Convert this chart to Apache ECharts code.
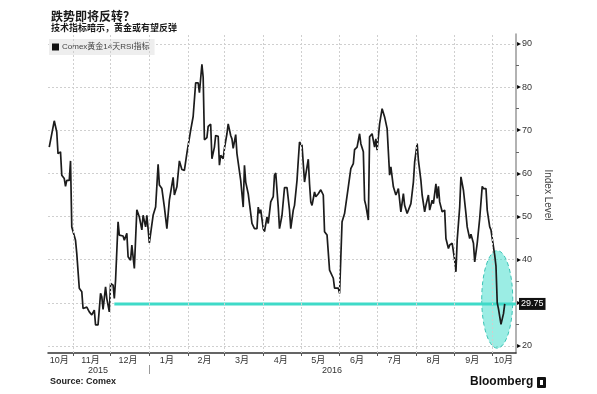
<!DOCTYPE html>
<html>
<head>
<meta charset="utf-8">
<script src="https://cdn.jsdelivr.net/npm/echarts@6/dist/echarts.min.js"></script>
<style>
html,body{margin:0;padding:0;background:#fff;}
#chart{width:597px;height:394px;}
</style>
</head>
<body>
<div id="chart"></div>
<script>
// ---------------- data ----------------
const titleText = '跌势即将反转？';
const subtitleText = '技术指标暗示，黄金或有望反弹';
const seriesName = 'Comex黄金14天RSI指标';
const sourceText = 'Source: Comex';
const brandText = 'Bloomberg';
const yAxisName = 'Index Level';

const xMin = '2015-10-12';
const xMax = '2016-10-20';

const rsiDates = [
 '2015-10-13','2015-10-17','2015-10-19','2015-10-20','2015-10-22','2015-10-23','2015-10-25','2015-10-26','2015-10-27','2015-10-29',
 '2015-10-30','2015-10-31','2015-11-03','2015-11-04','2015-11-06','2015-11-08','2015-11-09','2015-11-12','2015-11-14','2015-11-16',
 '2015-11-18','2015-11-19','2015-11-21','2015-11-23','2015-11-24','2015-11-25','2015-11-27','2015-11-28','2015-11-30','2015-12-01',
 '2015-12-03','2015-12-04','2015-12-05','2015-12-07','2015-12-08','2015-12-11','2015-12-12','2015-12-14','2015-12-15','2015-12-17',
 '2015-12-18','2015-12-20','2015-12-22','2015-12-24','2015-12-26','2015-12-27','2015-12-29','2015-12-30','2016-01-01','2016-01-02',
 '2016-01-04','2016-01-06','2016-01-08','2016-01-09','2016-01-11','2016-01-13','2016-01-14','2016-01-15','2016-01-17','2016-01-18',
 '2016-01-20','2016-01-21','2016-01-23','2016-01-25','2016-01-27','2016-01-29','2016-01-31','2016-02-01','2016-02-03','2016-02-05',
 '2016-02-06','2016-02-07','2016-02-09','2016-02-10','2016-02-12','2016-02-13','2016-02-14','2016-02-16','2016-02-17','2016-02-19',
 '2016-02-20','2016-02-22','2016-02-23','2016-02-25','2016-02-26','2016-02-27','2016-02-29','2016-03-01','2016-03-03','2016-03-04',
 '2016-03-06','2016-03-07','2016-03-08','2016-03-10','2016-03-11','2016-03-14','2016-03-16','2016-03-17','2016-03-18','2016-03-20',
 '2016-03-21','2016-03-23','2016-03-25','2016-03-27','2016-03-28','2016-03-29','2016-03-30','2016-04-01','2016-04-02','2016-04-04',
 '2016-04-05','2016-04-07','2016-04-09','2016-04-10','2016-04-11','2016-04-13','2016-04-14','2016-04-16','2016-04-17','2016-04-18',
 '2016-04-20','2016-04-22','2016-04-23','2016-04-25','2016-04-26','2016-04-28','2016-04-29','2016-04-30','2016-05-02','2016-05-04',
 '2016-05-05','2016-05-07','2016-05-08','2016-05-09','2016-05-10','2016-05-12','2016-05-13','2016-05-15','2016-05-17','2016-05-19',
 '2016-05-20','2016-05-22','2016-05-24','2016-05-27','2016-05-28','2016-05-31','2016-06-01','2016-06-03','2016-06-05','2016-06-06',
 '2016-06-08','2016-06-10','2016-06-12','2016-06-13','2016-06-15','2016-06-17','2016-06-18','2016-06-20','2016-06-21','2016-06-22',
 '2016-06-24','2016-06-25','2016-06-27','2016-06-29','2016-06-30','2016-07-01','2016-07-03','2016-07-05','2016-07-07','2016-07-09',
 '2016-07-10','2016-07-11','2016-07-12','2016-07-14','2016-07-16','2016-07-17','2016-07-18','2016-07-20','2016-07-22','2016-07-23',
 '2016-07-25','2016-07-26','2016-07-28','2016-07-30','2016-07-31','2016-08-02','2016-08-03','2016-08-05','2016-08-06','2016-08-08',
 '2016-08-09','2016-08-11','2016-08-12','2016-08-14','2016-08-15','2016-08-17','2016-08-18','2016-08-19','2016-08-20','2016-08-22',
 '2016-08-24','2016-08-25','2016-08-27','2016-08-28','2016-08-30','2016-09-01','2016-09-02','2016-09-03','2016-09-05','2016-09-06',
 '2016-09-08','2016-09-10','2016-09-11','2016-09-13','2016-09-14','2016-09-16','2016-09-17','2016-09-19','2016-09-21','2016-09-23',
 '2016-09-24','2016-09-26','2016-09-27','2016-09-29','2016-09-30','2016-10-02','2016-10-03','2016-10-04','2016-10-05','2016-10-06',
 '2016-10-07','2016-10-08','2016-10-09','2016-10-10','2016-10-11'
];
const rsiValues = [
 66.1,72.2,69.6,64.6,65.0,59.6,58.8,57.0,58.4,58.4,
 62.9,47.6,44.5,41.4,33.4,32.6,28.7,29.0,27.9,27.2,
 28.3,24.9,24.9,32.2,31.4,28.5,33.7,31.0,27.9,34.5,
 34.1,31.0,35.3,48.8,45.7,45.5,44.5,46.1,40.7,39.9,
 43.4,38.0,51.6,49.9,46.9,50.3,47.6,50.3,43.9,43.9,
 50.3,52.2,62.1,57.3,56.5,52.2,52.4,47.2,53.8,53.4,
 59.1,55.0,56.9,62.9,60.9,60.7,64.7,64.7,70.0,73.2,
 73.5,81.0,81.0,78.7,85.3,82.3,67.8,68.3,70.9,71.4,
 63.4,66.1,68.8,68.6,61.9,64.2,63.4,65.8,69.2,71.5,
 68.8,68.0,65.8,69.0,64.6,58.4,52.2,61.9,58.0,55.3,
 55.7,48.4,47.2,47.2,52.2,50.8,51.6,47.2,46.5,49.9,
 48.4,53.4,54.6,59.6,60.1,52.2,47.2,50.3,50.1,56.7,
 56.7,51.5,47.2,51.5,52.6,58.4,63.0,67.3,66.5,58.0,
 57.6,63.3,57.6,53.4,52.6,55.7,54.6,55.3,56.2,55.0,
 46.5,45.7,37.6,35.7,33.4,33.4,32.2,48.8,50.7,51.1,
 56.9,61.1,62.3,65.5,66.1,69.2,66.9,65.0,53.8,52.6,
 49.2,68.5,69.2,66.1,68.0,65.4,71.5,75.0,73.1,70.4,
 70.0,59.6,61.5,56.9,55.0,55.7,56.5,51.1,55.3,52.6,
 50.7,51.1,53.0,58.0,62.6,66.9,63.1,58.4,55.0,51.1,
 52.6,55.0,51.5,53.8,53.0,57.6,54.2,57.0,53.4,51.1,
 51.5,44.9,42.6,43.4,43.8,39.9,37.2,44.5,52.2,59.2,
 56.1,50.7,47.6,44.9,45.9,43.8,39.5,43.8,49.6,57.0,
 56.5,56.5,51.5,47.6,46.9,43.0,41.0,38.5,30.0,28.6,
 28.3,25.0,24.6,27.5,29.75
];

// annotation: horizontal reference level and highlight ellipse (data units)
const refLevel = 29.75;
const refLineStart = '2015-12-04';
const highlightCenter = ['2016-10-05', 30.8];
const highlightRadiusDays = 12.4;
const highlightRadiusValue = 11.3;

// axis ticks / labels
const yMin = 20, yMax = 90, yStep = 10;
const monthStarts = ['2015-11-01','2015-12-01','2016-01-01','2016-02-01','2016-03-01','2016-04-01',
                     '2016-05-01','2016-06-01','2016-07-01','2016-08-01','2016-09-01','2016-10-01'];
const monthLabelDates = ['2015-10-21','2015-11-15','2015-12-15','2016-01-15','2016-02-14','2016-03-15',
                         '2016-04-15','2016-05-15','2016-06-15','2016-07-15','2016-08-15','2016-09-15','2016-10-10'];
const monthLabels = ['10月','11月','12月','1月','2月','3月','4月','5月','6月','7月','8月','9月','10月'];
const yearBreaks = ['2016-01-01'];
const yearLabelDates = ['2015-11-21','2016-05-26'];
const yearLabels = ['2015','2016'];

// ---------------- chart ----------------
const ts = s => Date.UTC(+s.slice(0, 4), +s.slice(5, 7) - 1, +s.slice(8, 10));
const DAY = 86400000;
const tMin = ts(xMin), tMax = ts(xMax);
const lineData = rsiDates.map((d, i) => [ts(d), rsiValues[i]]);
const monthLabelMap = {};
monthLabelDates.forEach((d, i) => { monthLabelMap[ts(d)] = monthLabels[i]; });
const yearLabelMap = {};
yearLabelDates.forEach((d, i) => { yearLabelMap[ts(d)] = yearLabels[i]; });

const FONT = '"Liberation Sans", "Noto Sans CJK SC", sans-serif';
const GRID_LINE = {color: '#cfcfcf', type: [2, 2], width: 1};
const chart = echarts.init(document.getElementById('chart'), null, {renderer: 'canvas'});

const option = {
  animation: false,
  backgroundColor: '#ffffff',
  textStyle: {fontFamily: FONT},
  title: {
    text: titleText,
    subtext: subtitleText,
    left: 46, top: 5,
    itemGap: 1,
    textStyle: {fontSize: 12, fontWeight: 'bold', color: '#1a1a1a', fontFamily: '"Noto Sans CJK SC", sans-serif'},
    subtextStyle: {fontSize: 9, fontWeight: 'bold', color: '#1a1a1a', fontFamily: '"Noto Sans CJK SC", sans-serif'}
  },
  legend: {
    data: [seriesName],
    left: 49, top: 39,
    backgroundColor: '#eeeeee',
    padding: [4, 5, 4, 3],
    icon: 'rect',
    itemWidth: 7, itemHeight: 7, itemGap: 4,
    textStyle: {fontSize: 8, color: '#444', padding: [0, 0, 0, -2]}
  },
  grid: [
    {left: 48, right: 81, top: 34, bottom: 41, containLabel: false},
    {left: 48, right: 81, top: 44, bottom: 48, containLabel: false}
  ],
  xAxis: [
    {
      gridIndex: 0, type: 'value', min: tMin, max: tMax, position: 'bottom',
      axisLine: {show: true, lineStyle: {color: '#333', width: 1.5}},
      axisTick: {show: true, customValues: monthStarts.map(ts), length: 3, lineStyle: {color: '#555'}},
      axisLabel: {
        show: true, customValues: monthLabelDates.map(ts), margin: 3,
        fontSize: 9, color: '#333',
        formatter: v => monthLabelMap[v] || ''
      },
      splitLine: {show: false}
    },
    {
      gridIndex: 0, type: 'value', min: tMin, max: tMax, position: 'bottom', offset: 12,
      axisLine: {show: false},
      axisTick: {show: true, customValues: yearBreaks.map(ts), length: 9, lineStyle: {color: '#999'}},
      axisLabel: {
        show: true, customValues: yearLabelDates.map(ts), margin: 1,
        fontSize: 9, color: '#333',
        formatter: v => yearLabelMap[v] || ''
      },
      splitLine: {show: false}
    },
    {gridIndex: 1, type: 'value', min: tMin, max: tMax, show: false}
  ],
  yAxis: [
    {
      gridIndex: 0, type: 'value', min: 0, max: 1, position: 'right',
      axisLine: {show: true, lineStyle: {color: '#999', width: 1.5}},
      axisTick: {show: false}, axisLabel: {show: false}, splitLine: {show: false}
    },
    {
      gridIndex: 1, type: 'value', min: yMin, max: yMax, interval: yStep, position: 'right',
      name: yAxisName, nameLocation: 'middle', nameRotate: -90, nameGap: 25,
      nameTextStyle: {fontSize: 10, color: '#444'},
      axisLine: {show: false},
      axisTick: {show: false},
      minorTick: {show: true, splitNumber: 2, length: 3, lineStyle: {color: '#666'}},
      axisLabel: {
        margin: 1,
        formatter: v => '{t|▸}{n|' + v + '}',
        rich: {
          t: {fontSize: 8, color: '#000', padding: [0, 1, 0, 0]},
          n: {fontSize: 9, color: '#333'}
        }
      },
      splitLine: {show: true, lineStyle: GRID_LINE}
    }
  ],
  series: [
    {
      name: 'monthGrid',
      type: 'line',
      xAxisIndex: 0, yAxisIndex: 0,
      z: 0, silent: true,
      symbol: 'none',
      data: [],
      markLine: {
        silent: true, symbol: ['none', 'none'],
        label: {show: false},
        lineStyle: GRID_LINE,
        data: monthStarts.map(d => ({xAxis: ts(d)}))
      }
    },
    {
      name: 'highlight',
      type: 'custom',
      xAxisIndex: 2, yAxisIndex: 1,
      z: 1, silent: true,
      data: [[ts(highlightCenter[0]), highlightCenter[1], highlightRadiusDays, highlightRadiusValue]],
      encode: {x: 0, y: 1},
      renderItem: (params, api) => {
        const t = api.value(0), v = api.value(1);
        const c = api.coord([t, v]);
        const rx = api.coord([t + api.value(2) * DAY, v])[0] - c[0];
        const ry = c[1] - api.coord([t, v + api.value(3)])[1];
        return {
          type: 'ellipse',
          shape: {cx: c[0], cy: c[1], rx: rx, ry: ry},
          style: {fill: 'rgba(72,222,206,0.55)', stroke: '#3cc4b6', lineWidth: 1, lineDash: [4, 3]}
        };
      }
    },
    {
      name: 'level',
      type: 'line',
      xAxisIndex: 2, yAxisIndex: 1,
      z: 2, silent: true,
      symbol: 'none',
      data: [[ts(refLineStart), refLevel], [tMax, refLevel]],
      lineStyle: {color: '#3fdac8', width: 3},
      endLabel: {
        show: true, distance: 3,
        formatter: () => refLevel.toFixed(2),
        backgroundColor: '#111', color: '#fff', fontSize: 9, padding: [2, 2, 1, 2]
      }
    },
    {
      name: seriesName,
      type: 'line',
      xAxisIndex: 2, yAxisIndex: 1,
      z: 3,
      symbol: 'none',
      data: lineData,
      itemStyle: {color: '#111'},
      lineStyle: {color: '#1c1c1c', width: 1.7}
    }
  ],
  graphic: [
    {type: 'text', left: 50, top: 377, style: {text: sourceText, font: 'bold 9px "Liberation Sans", sans-serif', fill: '#222'}},
    {type: 'text', left: 470, top: 376, style: {text: brandText, font: 'bold 12px "Liberation Sans", sans-serif', fill: '#111'}},
    {type: 'rect', left: 537, top: 377, shape: {width: 9, height: 11, r: 1}, style: {fill: '#111'}},
    {type: 'rect', left: 540, top: 380, shape: {width: 3, height: 5}, style: {fill: '#fff'}}
  ]
};
chart.setOption(option);
</script>
</body>
</html>
